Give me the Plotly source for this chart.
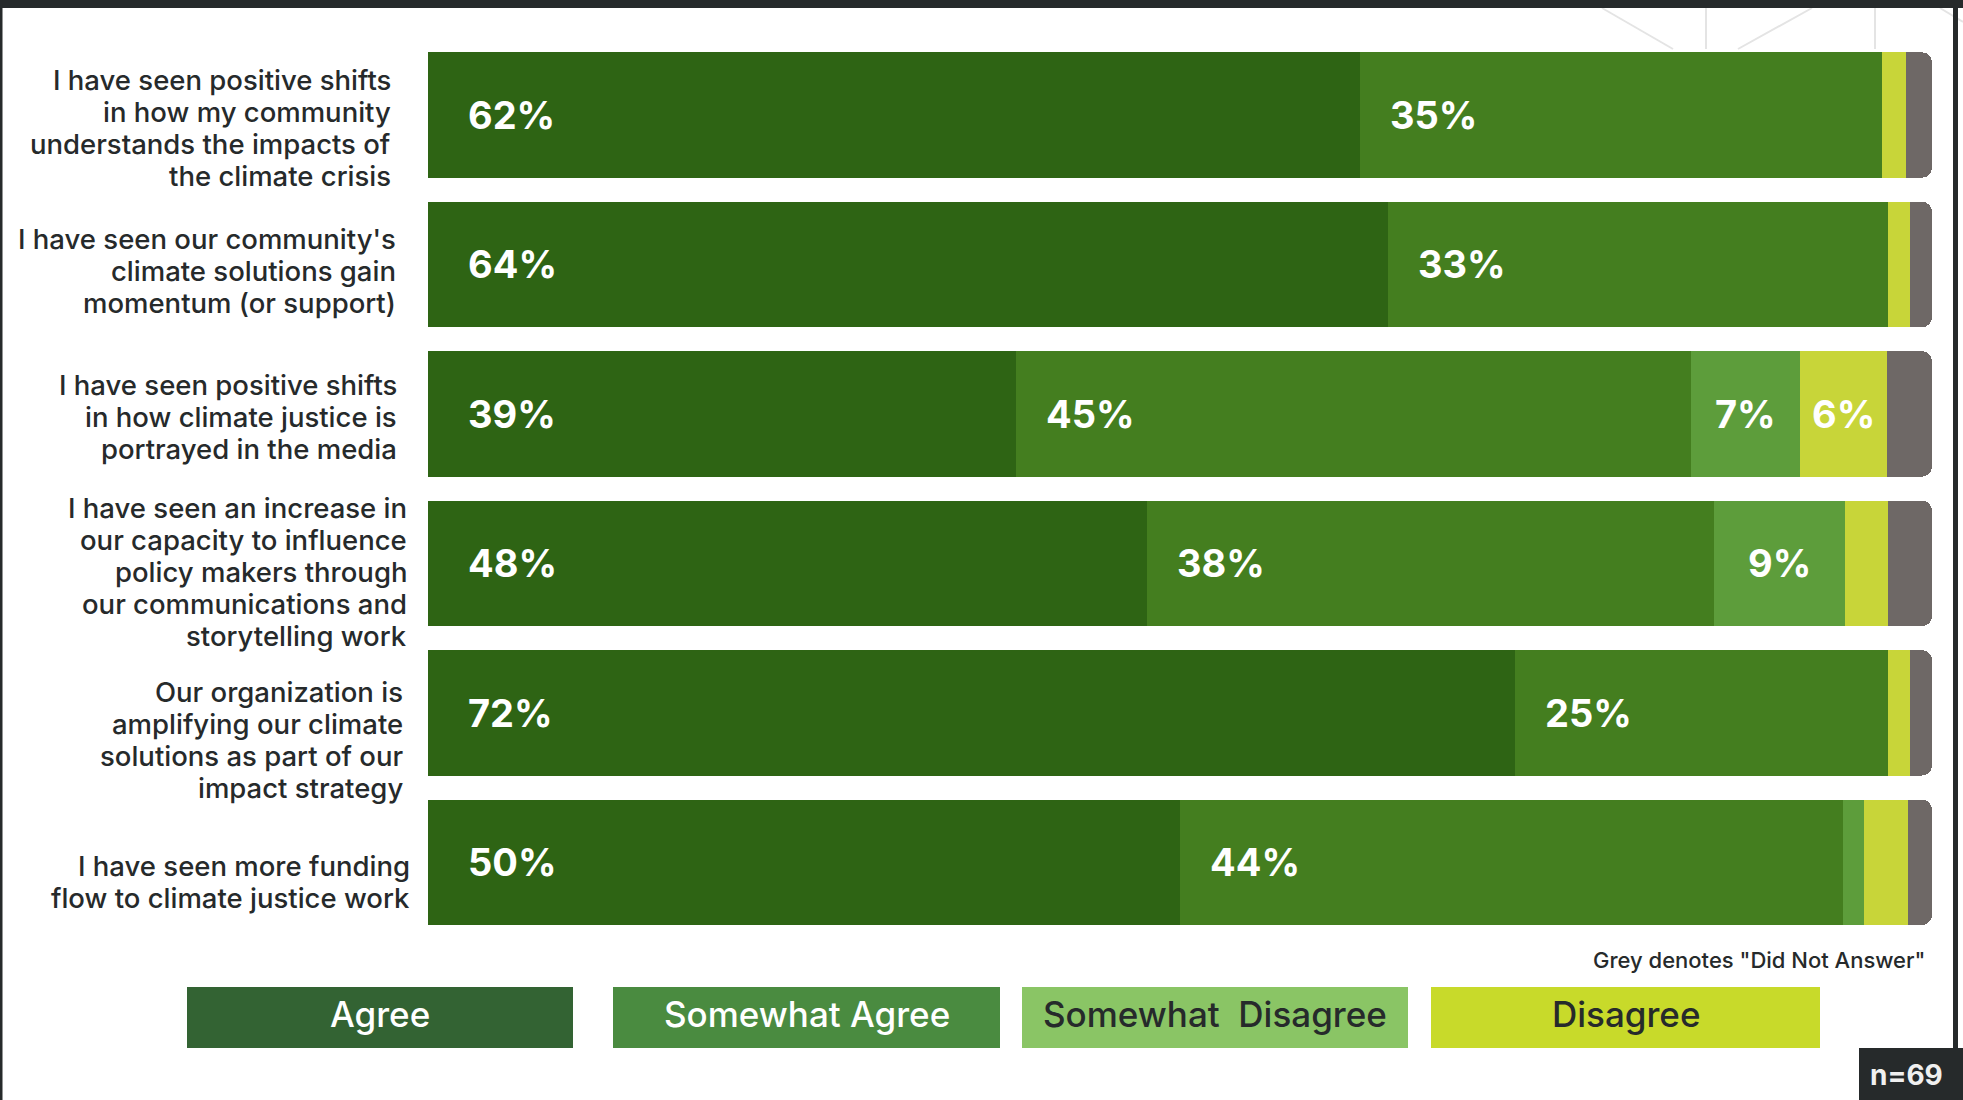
import plotly.graph_objects as go

# ---------------- data ----------------
categories = [
    "I have seen positive shifts<br>in how my community<br>understands the impacts of<br>the climate crisis",
    "I have seen our community's<br>climate solutions gain<br>momentum (or support)",
    "I have seen positive shifts<br>in how climate justice is<br>portrayed in the media",
    "I have seen an increase in<br>our capacity to influence<br>policy makers through<br>our communications and<br>storytelling work",
    "Our organization is<br>amplifying our climate<br>solutions as part of our<br>impact strategy",
    "I have seen more funding<br>flow to climate justice work",
]
agree = [62, 63.8, 39.1, 47.8, 72.3, 50]
somewhat_agree = [34.7, 33.3, 44.9, 37.7, 24.8, 44.1]
somewhat_disagree = [0, 0, 7.2, 8.7, 0, 1.4]
disagree = [1.6, 1.45, 5.8, 2.9, 1.45, 2.9]
no_answer = [1.7, 1.45, 3.0, 2.9, 1.45, 1.6]

legend_labels = ["Agree", "Somewhat Agree", "Somewhat  Disagree", "Disagree"]
note_text = 'Grey denotes "Did Not Answer"'
n_text = "n=69"

# ---------------- styles ----------------
W, H = 1963, 1100
L, R, T, B = 428, 1932, 35, 937
DARK = "#262a2b"
FONT = "Inter"

series = [
    ("Agree", agree, "#2e6414"),
    ("Somewhat Agree", somewhat_agree, "#447e1f"),
    ("Somewhat Disagree", somewhat_disagree, "#5d9d3b"),
    ("Disagree", disagree, "#c8d539"),
    ("Did Not Answer", no_answer, "#6e6866"),
]
legend_colors = ["#336333", "#4a8b40", "#8ac565", "#c8da2a"]
legend_text_colors = ["white", "white", DARK, DARK]
legend_x = [(187, 573), (613, 1000), (1022, 1408), (1431, 1820)]
legend_y = (987, 1048)

label_xshift = [-35, -30, -29, -19, -23, -16]
label_yshift = [-13, -7, -3, -9, -27, -20]
LINE_H = 32


def px(x):
    return (x - L) / (R - L)


def py(y):
    return (B - y) / (B - T)


fig = go.Figure()
for name, vals, color in series:
    fig.add_trace(go.Bar(
        name=name, x=vals, y=categories, orientation="h",
        marker=dict(color=color, line=dict(width=0)),
        hoverinfo="skip", showlegend=False,
    ))

annotations = []
# in-bar value labels
for i, cat in enumerate(categories):
    start = 0
    for k, (name, vals, color) in enumerate(series):
        v = vals[i]
        if k < 4 and v >= 5:
            if v >= 15:
                annotations.append(dict(
                    x=start, y=cat, xref="x", yref="y", text=f"{round(v)}%",
                    showarrow=False, xanchor="left", yanchor="middle",
                    xshift=38 if k == 0 else 28,
                    font=dict(family=FONT, size=38, color="white", weight="bold"),
                ))
            else:
                annotations.append(dict(
                    x=start + v / 2, y=cat, xref="x", yref="y", text=f"{round(v)}%",
                    showarrow=False, xanchor="center", yanchor="middle",
                    font=dict(family=FONT, size=38, color="white", weight="bold"),
                ))
        start += v

# category labels (one annotation per line for tight line spacing)
for i, cat in enumerate(categories):
    lines = cat.split("<br>")
    n = len(lines)
    for j, line in enumerate(lines):
        annotations.append(dict(
            x=0, y=cat, xref="paper", yref="y", text=line, showarrow=False,
            xanchor="right", yanchor="middle", align="right",
            xshift=label_xshift[i],
            yshift=label_yshift[i] + ((n - 1) / 2 - j) * LINE_H,
            font=dict(family=FONT, size=27.5, color=DARK, weight=500),
        ))

shapes = []
# decorative background lines (top right)
deco = [((1602, 8), (1673, 49)), ((1706, 8), (1706, 49)), ((1738, 49), (1812, 8)),
        ((1875, 8), (1875, 49)), ((1940, 8), (1963, 22))]
for (x0, y0), (x1, y1) in deco:
    shapes.append(dict(type="line", xref="paper", yref="paper",
                       x0=px(x0), y0=py(y0), x1=px(x1), y1=py(y1),
                       line=dict(color="#e4e4e4", width=2), layer="below"))

# frame
shapes.append(dict(type="rect", xref="paper", yref="paper", x0=px(0), x1=px(W),
                   y0=py(0), y1=py(8), fillcolor=DARK, line=dict(width=0)))
shapes.append(dict(type="rect", xref="paper", yref="paper", x0=px(0), x1=px(2.5),
                   y0=py(0), y1=py(H), fillcolor=DARK, line=dict(width=0)))
shapes.append(dict(type="rect", xref="paper", yref="paper", x0=px(1953), x1=px(1958),
                   y0=py(0), y1=py(1048), fillcolor=DARK, line=dict(width=0)))

# legend boxes
for (x0, x1), col, lab, tcol in zip(legend_x, legend_colors, legend_labels, legend_text_colors):
    shapes.append(dict(type="rect", xref="paper", yref="paper",
                       x0=px(x0), x1=px(x1), y0=py(legend_y[0]), y1=py(legend_y[1]),
                       fillcolor=col, line=dict(width=0)))
    annotations.append(dict(x=px((x0 + x1) / 2), y=py((legend_y[0] + legend_y[1]) / 2),
                            xref="paper", yref="paper", text=lab.replace("  ", "&nbsp; "),
                            showarrow=False, xanchor="center", yanchor="middle", yshift=4,
                            font=dict(family=FONT, size=35, color=tcol, weight=500)))

# note
annotations.append(dict(x=px(1927), y=py(960), xref="paper", yref="paper", text=note_text,
                        showarrow=False, xanchor="right", yanchor="middle",
                        font=dict(family=FONT, size=22, color=DARK, weight=500)))

# n box
shapes.append(dict(type="rect", xref="paper", yref="paper", x0=px(1859), x1=px(W),
                   y0=py(1048), y1=py(H), fillcolor=DARK, line=dict(width=0)))
annotations.append(dict(x=px(1906), y=py(1075), xref="paper", yref="paper", text=n_text,
                        showarrow=False, xanchor="center", yanchor="middle",
                        font=dict(family=FONT, size=28, color="#f0f0f0", weight="bold")))

fig.update_layout(
    width=W, height=H, autosize=False,
    margin=dict(l=L, r=W - R, t=T, b=H - B, pad=0),
    paper_bgcolor="white", plot_bgcolor="white",
    barmode="stack", bargap=0.16, barcornerradius=10,
    xaxis=dict(range=[0, 100], visible=False, fixedrange=True),
    yaxis=dict(categoryorder="array", categoryarray=categories, autorange="reversed",
               visible=False, fixedrange=True),
    shapes=shapes, annotations=annotations,
    font=dict(family=FONT, color=DARK),
)

fig.write_html("out.html", config={"displayModeBar": False},
               post_script="document.body.style.margin='0';document.body.style.overflow='hidden';")
